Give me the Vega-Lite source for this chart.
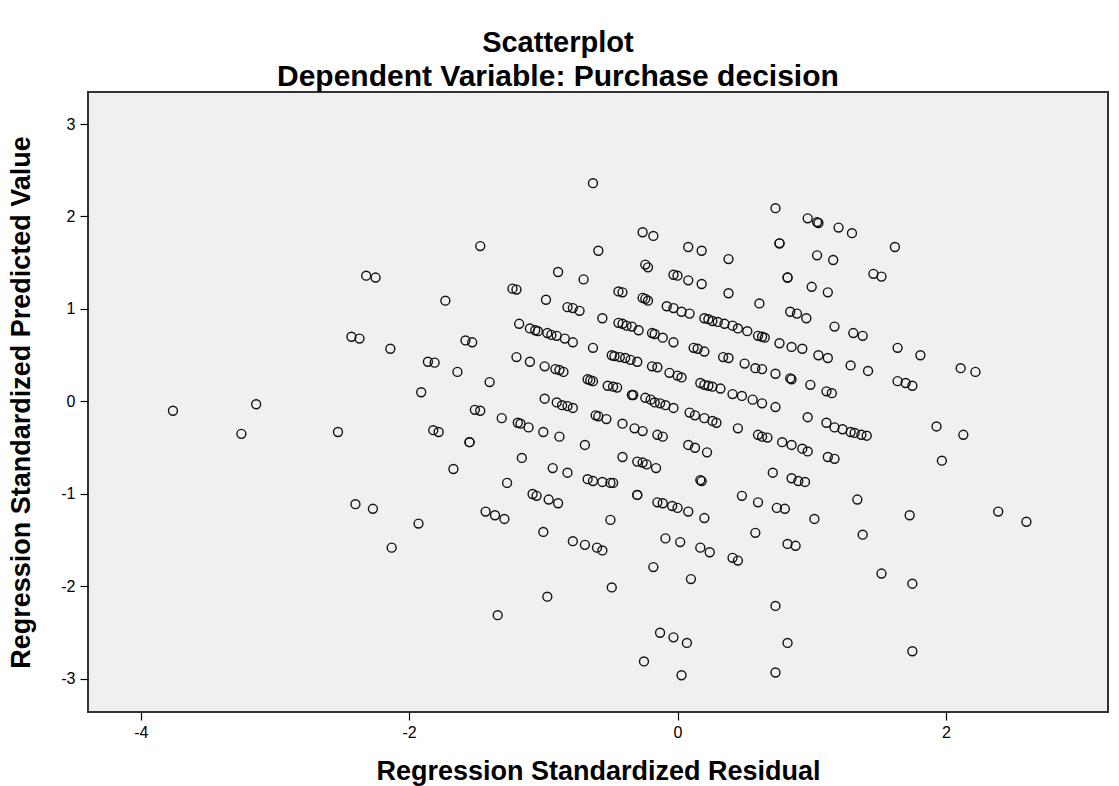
{
  "$schema": "https://vega.github.io/schema/vega-lite/v6.json",
  "autosize": {"type": "none"},
  "width": 1020,
  "height": 620,
  "padding": {"left": 88, "top": 92, "right": 11, "bottom": 74},
  "background": "#ffffff",
  "config": {
    "view": {"fill": "#f0f0f0", "stroke": "#333333", "strokeWidth": 2},
    "font": "Liberation Sans"
  },
  "title": {
    "text": "Scatterplot",
    "subtitle": "Dependent Variable: Purchase decision",
    "anchor": "middle",
    "frame": "bounds",
    "font": "Liberation Sans",
    "fontSize": 29,
    "fontWeight": "bold",
    "color": "#000000",
    "subtitleFont": "Liberation Sans",
    "subtitleFontSize": 30,
    "subtitleFontWeight": "bold",
    "subtitleColor": "#000000",
    "subtitlePadding": 4,
    "offset": 0
  },
  "data": {"values": [
    {"r":-3.76,"p":-0.10},{"r":-3.14,"p":-0.03},{"r":-3.25,"p":-0.35},{"r":-2.53,"p":-0.33},{"r":-2.32,"p":1.36},{"r":-2.25,"p":1.34},{"r":-2.43,"p":0.70},{"r":-2.37,"p":0.68},{"r":-2.14,"p":0.57},{"r":-1.86,"p":0.43},{"r":-1.81,"p":0.42},{"r":-1.91,"p":0.10},{"r":-1.73,"p":1.09},{"r":-1.82,"p":-0.31},{"r":-1.78,"p":-0.33},{"r":-2.40,"p":-1.11},{"r":-2.27,"p":-1.16},{"r":-1.93,"p":-1.32},{"r":-2.13,"p":-1.58},{"r":-1.58,"p":0.66},{"r":-1.53,"p":0.64},{"r":-1.64,"p":0.32},{"r":-1.55,"p":-0.44},{"r":-1.55,"p":-0.44},{"r":-1.51,"p":-0.09},{"r":-1.47,"p":-0.10},{"r":-1.67,"p":-0.73},{"r":-1.47,"p":1.68},{"r":-1.43,"p":-1.19},{"r":-1.36,"p":-1.23},{"r":-1.29,"p":-1.27},{"r":-1.34,"p":-2.31},{"r":-1.40,"p":0.21},
    {"r":-0.63,"p":2.36},{"r":-0.24,"p":1.48},{"r":-0.22,"p":1.45},{"r":-0.26,"p":1.83},{"r":-0.18,"p":1.79},{"r":-0.59,"p":1.63},
    {"r":-0.89,"p":1.40},{"r":-0.70,"p":1.32},{"r":-0.03,"p":1.37},
    {"r":-1.23,"p":1.22},{"r":-1.20,"p":1.21},{"r":-0.98,"p":1.10},{"r":-0.82,"p":1.02},{"r":-0.78,"p":1.01},{"r":-0.73,"p":0.98},{"r":-0.44,"p":1.19},{"r":-0.41,"p":1.18},{"r":-0.26,"p":1.12},{"r":-0.24,"p":1.11},{"r":-0.22,"p":1.09},{"r":-0.08,"p":1.03},{"r":-0.03,"p":1.01},
    {"r":-0.56,"p":0.90},
    {"r":-1.18,"p":0.84},{"r":-1.10,"p":0.79},{"r":-1.06,"p":0.77},{"r":-1.04,"p":0.76},{"r":-0.97,"p":0.74},{"r":-0.94,"p":0.72},{"r":-0.90,"p":0.71},{"r":-0.84,"p":0.68},{"r":-0.78,"p":0.64},
    {"r":-0.44,"p":0.85},{"r":-0.41,"p":0.84},{"r":-0.38,"p":0.82},{"r":-0.34,"p":0.81},{"r":-0.29,"p":0.77},{"r":-0.19,"p":0.74},{"r":-0.17,"p":0.73},{"r":-0.11,"p":0.69},{"r":-0.03,"p":0.64},
    {"r":-0.63,"p":0.58},
    {"r":-0.49,"p":0.50},{"r":-0.47,"p":0.49},{"r":-0.43,"p":0.48},{"r":-0.39,"p":0.47},{"r":-0.35,"p":0.45},{"r":-0.30,"p":0.43},{"r":-0.19,"p":0.38},{"r":-0.15,"p":0.37},{"r":-0.06,"p":0.31},
    {"r":-1.20,"p":0.48},{"r":-1.10,"p":0.43},{"r":-0.99,"p":0.38},{"r":-0.91,"p":0.35},{"r":-0.88,"p":0.34},{"r":-0.85,"p":0.32},
    {"r":-0.67,"p":0.24},{"r":-0.65,"p":0.23},{"r":-0.63,"p":0.22},{"r":-0.52,"p":0.17},{"r":-0.48,"p":0.16},{"r":-0.45,"p":0.15},
    {"r":-0.34,"p":0.07},{"r":-0.33,"p":0.07},{"r":-0.24,"p":0.04},{"r":-0.20,"p":0.02},{"r":-0.17,"p":-0.01},{"r":-0.13,"p":-0.02},{"r":-0.09,"p":-0.04},{"r":-0.03,"p":-0.07},
    {"r":-0.99,"p":0.03},{"r":-0.90,"p":-0.01},{"r":-0.86,"p":-0.04},{"r":-0.82,"p":-0.05},{"r":-0.78,"p":-0.07},
    {"r":-1.31,"p":-0.18},{"r":-1.19,"p":-0.23},{"r":-1.17,"p":-0.24},{"r":-1.11,"p":-0.28},{"r":-1.00,"p":-0.33},{"r":-0.88,"p":-0.38},
    {"r":-0.61,"p":-0.15},{"r":-0.59,"p":-0.16},{"r":-0.53,"p":-0.19},{"r":-0.41,"p":-0.24},{"r":-0.32,"p":-0.29},{"r":-0.26,"p":-0.32},{"r":-0.15,"p":-0.36},{"r":-0.11,"p":-0.38},
    {"r":-0.69,"p":-0.47},
    {"r":-1.16,"p":-0.61},{"r":-0.93,"p":-0.72},{"r":-0.82,"p":-0.77},{"r":-0.41,"p":-0.60},{"r":-0.30,"p":-0.65},{"r":-0.26,"p":-0.66},{"r":-0.23,"p":-0.68},{"r":-0.16,"p":-0.72},
    {"r":-1.27,"p":-0.88},{"r":-0.67,"p":-0.84},{"r":-0.63,"p":-0.86},{"r":-0.56,"p":-0.87},{"r":-0.50,"p":-0.88},{"r":-0.48,"p":-0.88},
    {"r":-0.30,"p":-1.01},{"r":-0.30,"p":-1.01},{"r":-0.15,"p":-1.09},{"r":-0.11,"p":-1.10},{"r":-0.04,"p":-1.13},
    {"r":-1.08,"p":-1.00},{"r":-1.05,"p":-1.02},{"r":-0.96,"p":-1.06},{"r":-0.89,"p":-1.10},
    {"r":-0.50,"p":-1.28},{"r":-1.00,"p":-1.41},
    {"r":-0.78,"p":-1.51},{"r":-0.69,"p":-1.55},{"r":-0.60,"p":-1.58},{"r":-0.56,"p":-1.61},
    {"r":-0.09,"p":-1.48},{"r":-0.18,"p":-1.79},{"r":-0.49,"p":-2.01},{"r":-0.97,"p":-2.11},
    {"r":-0.13,"p":-2.50},{"r":-0.03,"p":-2.55},{"r":-0.25,"p":-2.81},
    {"r":0.73,"p":2.09},{"r":0.97,"p":1.98},{"r":1.04,"p":1.94},{"r":1.05,"p":1.93},{"r":1.20,"p":1.88},{"r":1.30,"p":1.82},{"r":0.76,"p":1.71},{"r":0.76,"p":1.71},{"r":0.08,"p":1.67},{"r":0.18,"p":1.63},{"r":0.38,"p":1.54},{"r":1.04,"p":1.58},{"r":1.16,"p":1.53},
    {"r":0.00,"p":1.36},{"r":0.08,"p":1.31},{"r":0.18,"p":1.27},{"r":0.82,"p":1.34},{"r":0.82,"p":1.34},{"r":1.00,"p":1.24},{"r":1.12,"p":1.18},
    {"r":0.38,"p":1.17},{"r":0.61,"p":1.06},
    {"r":0.03,"p":0.97},{"r":0.09,"p":0.95},{"r":0.20,"p":0.90},{"r":0.23,"p":0.89},{"r":0.26,"p":0.87},{"r":0.30,"p":0.86},{"r":0.35,"p":0.84},{"r":0.41,"p":0.82},{"r":0.45,"p":0.79},{"r":0.52,"p":0.76},{"r":0.60,"p":0.71},{"r":0.63,"p":0.70},{"r":0.65,"p":0.69},{"r":0.76,"p":0.63},{"r":0.85,"p":0.59},{"r":0.93,"p":0.57},
    {"r":0.84,"p":0.97},{"r":0.89,"p":0.95},{"r":0.96,"p":0.90},{"r":1.17,"p":0.81},{"r":1.31,"p":0.74},{"r":1.38,"p":0.71},
    {"r":0.12,"p":0.58},{"r":0.15,"p":0.57},{"r":0.20,"p":0.54},{"r":0.34,"p":0.48},{"r":0.38,"p":0.47},{"r":0.50,"p":0.41},{"r":0.58,"p":0.36},{"r":0.63,"p":0.35},{"r":0.73,"p":0.30},{"r":0.84,"p":0.25},{"r":0.85,"p":0.24},
    {"r":1.05,"p":0.50},{"r":1.12,"p":0.47},{"r":1.29,"p":0.39},{"r":1.42,"p":0.33},
    {"r":0.00,"p":0.28},{"r":0.03,"p":0.26},{"r":0.17,"p":0.20},{"r":0.20,"p":0.18},{"r":0.23,"p":0.17},{"r":0.26,"p":0.16},{"r":0.32,"p":0.14},{"r":0.41,"p":0.08},{"r":0.48,"p":0.06},{"r":0.56,"p":0.02},{"r":0.63,"p":-0.02},{"r":0.73,"p":-0.06},
    {"r":0.99,"p":0.18},{"r":1.11,"p":0.11},{"r":1.15,"p":0.09},
    {"r":0.09,"p":-0.12},{"r":0.13,"p":-0.15},{"r":0.20,"p":-0.18},{"r":0.26,"p":-0.21},{"r":0.29,"p":-0.23},{"r":0.45,"p":-0.29},{"r":0.60,"p":-0.36},{"r":0.63,"p":-0.38},{"r":0.67,"p":-0.39},{"r":0.78,"p":-0.44},{"r":0.85,"p":-0.47},{"r":0.93,"p":-0.51},{"r":0.97,"p":-0.54},
    {"r":0.97,"p":-0.17},{"r":1.11,"p":-0.23},{"r":1.17,"p":-0.28},{"r":1.23,"p":-0.30},{"r":1.29,"p":-0.33},{"r":1.32,"p":-0.34},{"r":1.37,"p":-0.36},{"r":1.41,"p":-0.37},
    {"r":0.08,"p":-0.47},{"r":0.13,"p":-0.50},{"r":0.22,"p":-0.55},
    {"r":1.12,"p":-0.60},{"r":1.17,"p":-0.62},
    {"r":0.71,"p":-0.77},{"r":0.85,"p":-0.83},{"r":0.90,"p":-0.86},{"r":0.95,"p":-0.87},
    {"r":0.17,"p":-0.85},{"r":0.18,"p":-0.86},
    {"r":1.34,"p":-1.06},{"r":0.48,"p":-1.02},{"r":0.60,"p":-1.09},{"r":0.74,"p":-1.15},{"r":0.80,"p":-1.16},{"r":0.00,"p":-1.15},{"r":0.08,"p":-1.19},{"r":0.20,"p":-1.26},{"r":1.02,"p":-1.27},
    {"r":0.02,"p":-1.52},{"r":0.17,"p":-1.58},{"r":0.24,"p":-1.63},{"r":0.41,"p":-1.69},{"r":0.45,"p":-1.72},{"r":0.58,"p":-1.42},{"r":0.82,"p":-1.54},{"r":0.88,"p":-1.56},{"r":1.38,"p":-1.44},
    {"r":0.10,"p":-1.92},{"r":0.73,"p":-2.21},{"r":0.07,"p":-2.61},{"r":0.82,"p":-2.61},{"r":0.03,"p":-2.96},{"r":0.73,"p":-2.93},
    {"r":1.46,"p":1.38},{"r":1.52,"p":1.35},{"r":1.62,"p":1.67},{"r":1.64,"p":0.58},{"r":1.81,"p":0.50},{"r":2.11,"p":0.36},{"r":2.22,"p":0.32},{"r":1.64,"p":0.22},{"r":1.70,"p":0.20},{"r":1.75,"p":0.17},
    {"r":1.93,"p":-0.27},{"r":2.13,"p":-0.36},{"r":1.97,"p":-0.64},{"r":2.39,"p":-1.19},{"r":2.60,"p":-1.30},{"r":1.73,"p":-1.23},{"r":1.75,"p":-1.97},{"r":1.52,"p":-1.86},{"r":1.75,"p":-2.70}
  ]},
  "mark": {"type": "point", "shape": "circle", "filled": false, "stroke": "#111111", "strokeWidth": 1.4, "size": 80, "opacity": 1},
  "encoding": {
    "x": {
      "field": "r", "type": "quantitative",
      "scale": {"domain": [-4.393, 3.208], "nice": false, "zero": false},
      "axis": {
        "title": "Regression Standardized Residual",
        "values": [-4, -2, 0, 2],
        "labelExpr": "'' + datum.value",
        "grid": false, "domain": false,
        "tickColor": "#000000", "tickSize": 8, "tickWidth": 1.2,
        "labelFont": "Liberation Sans", "labelFontSize": 16, "labelColor": "#000000", "labelPadding": 4,
        "titleFont": "Liberation Sans", "titleFontSize": 27, "titleFontWeight": "bold", "titleColor": "#000000", "titlePadding": 18
      }
    },
    "y": {
      "field": "p", "type": "quantitative",
      "scale": {"domain": [-3.357, 3.346], "nice": false, "zero": false},
      "axis": {
        "title": "Regression Standardized Predicted Value",
        "values": [-3, -2, -1, 0, 1, 2, 3],
        "labelExpr": "'' + datum.value",
        "grid": false, "domain": false,
        "tickColor": "#000000", "tickSize": 8, "tickWidth": 1.2,
        "labelFont": "Liberation Sans", "labelFontSize": 16, "labelColor": "#000000", "labelPadding": 5,
        "titleFont": "Liberation Sans", "titleFontSize": 27, "titleFontWeight": "bold", "titleColor": "#000000", "titlePadding": 25
      }
    }
  }
}
